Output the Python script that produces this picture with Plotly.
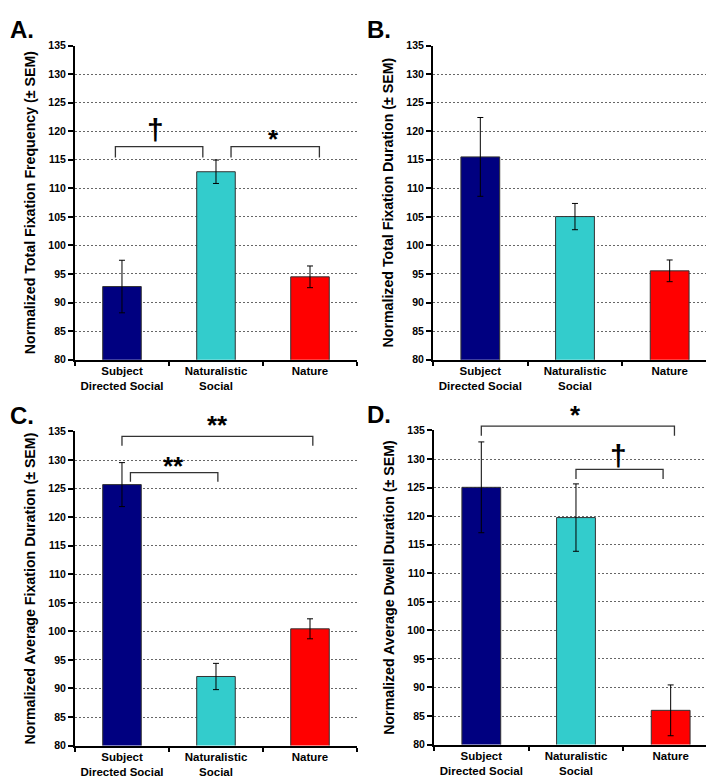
import plotly.graph_objects as go

categories = ["Subject<br>Directed Social", "Naturalistic<br>Social", "Nature"]
bar_colors = ["#000080", "#33CCCC", "#FF0000"]

values_A = [92.8, 112.9, 94.5]
errors_A = [4.6, 2.05, 1.9]
values_B = [115.5, 105.05, 95.55]
errors_B = [6.9, 2.3, 1.9]
values_C = [125.7, 92.1, 100.45]
errors_C = [3.85, 2.3, 1.75]
values_D = [125.05, 119.75, 86.0]
errors_D = [7.95, 5.9, 4.45]

y_titles = [
    "Normalized Total Fixation Frequency (± SEM)",
    "Normalized Total Fixation Duration (± SEM)",
    "Normalized Average Fixation Duration (± SEM)",
    "Normalized Average Dwell Duration (± SEM)",
]
panel_letters = ["A.", "B.", "C.", "D."]
y_min, y_max = 80, 135

# significance brackets: (panel, x_start, x_end, y_line, y_end, symbol, x_sym, y_sym)
brackets = [
    (0, -0.07, 0.86, 117.3, 115.4, "†", 0.355, 120.3),
    (0, 1.16, 2.10, 117.3, 115.4, "*", 1.61, 118.6),
    (2, 0.0, 2.03, 134.15, 132.5, "**", 1.02, 136.1),
    (2, 0.09, 1.02, 127.8, 126.2, "**", 0.545, 128.9),
    (3, 0.0, 2.04, 135.75, 134.1, "*", 0.99, 137.7),
    (3, 1.0, 1.92, 128.2, 126.5, "†", 1.45, 130.7),
]

x_domains = [[0.0938, 0.4888], [0.5952, 0.993], [0.0938, 0.4888], [0.5966, 0.9944]]
y_domains = [[0.5517, 0.9591], [0.5517, 0.9591], [0.0511, 0.4585], [0.0524, 0.4598]]

FONT = "Liberation Sans, Arial, sans-serif"

fig = go.Figure()
all_vals = [values_A, values_B, values_C, values_D]
all_errs = [errors_A, errors_B, errors_C, errors_D]

for i in range(4):
    ax = "" if i == 0 else str(i + 1)
    fig.add_trace(go.Bar(
        x=categories, y=all_vals[i],
        base=0,
        marker=dict(color=bar_colors, line=dict(color="#333333", width=1)),
        error_y=dict(type="data", array=all_errs[i], color="black", thickness=1, width=3),
        xaxis="x" + ax, yaxis="y" + ax, showlegend=False,
    ))
    fig.layout["xaxis" + ax] = dict(
        domain=x_domains[i], anchor="y" + ax, type="category",
        tickson="boundaries", ticks="outside", ticklen=4, tickwidth=2, tickcolor="black",
        showline=True, linecolor="black", linewidth=2, showgrid=False,
        tickfont=dict(family=FONT, size=11.5, color="black", weight="bold"),
        range=[-0.5, 2.5], fixedrange=True,
    )
    fig.layout["yaxis" + ax] = dict(
        domain=y_domains[i], anchor="x" + ax, range=[y_min, y_max], dtick=5,
        ticks="outside", ticklen=5, tickwidth=2, tickcolor="black",
        showline=True, linecolor="black", linewidth=2,
        showgrid=True, gridcolor="#666666", griddash="2px,2px", gridwidth=1,
        zeroline=False,
        tickfont=dict(family=FONT, size=10.5, color="black", weight="bold"),
        title=dict(text=y_titles[i], standoff=9,
                   font=dict(family=FONT, size=14.2, color="black", weight="bold")),
    )
    fig.add_annotation(
        text=panel_letters[i], xref="paper", yref="paper",
        x=0.0 if i % 2 == 0 else 0.5, y=y_domains[i][1] + 0.041,
        xanchor="left", yanchor="top", showarrow=False,
        font=dict(family=FONT, size=24, color="black", weight="bold"),
    )

bar_gap = 0.59
fig.update_layout(bargap=bar_gap)


def fx(v):
    return (v + 0.5) / 3.0


def fy(v):
    return (v - y_min) / (y_max - y_min)


for (p, xs, xe, yl, ye, sym, xsym, ysym) in brackets:
    ax = "" if p == 0 else str(p + 1)
    xr = "x" + ax + " domain"
    yr = "y" + ax + " domain"
    fig.add_shape(
        type="path",
        path=f"M {fx(xs)} {fy(ye)} L {fx(xs)} {fy(yl)} L {fx(xe)} {fy(yl)} L {fx(xe)} {fy(ye)}",
        xref=xr, yref=yr, line=dict(color="#333333", width=1.3),
    )
    fig.add_annotation(
        text=sym, xref=xr, yref=yr, x=fx(xsym), y=fy(ysym),
        showarrow=False, xanchor="center", yanchor="middle",
        font=dict(family=FONT, size=30 if sym == "†" else 26, color="black", weight="bold"),
    )

fig.update_layout(
    width=714, height=783,
    margin=dict(l=0, r=0, t=0, b=0),
    paper_bgcolor="white", plot_bgcolor="white",
    font=dict(family=FONT),
)

fig.write_html("out.html")
